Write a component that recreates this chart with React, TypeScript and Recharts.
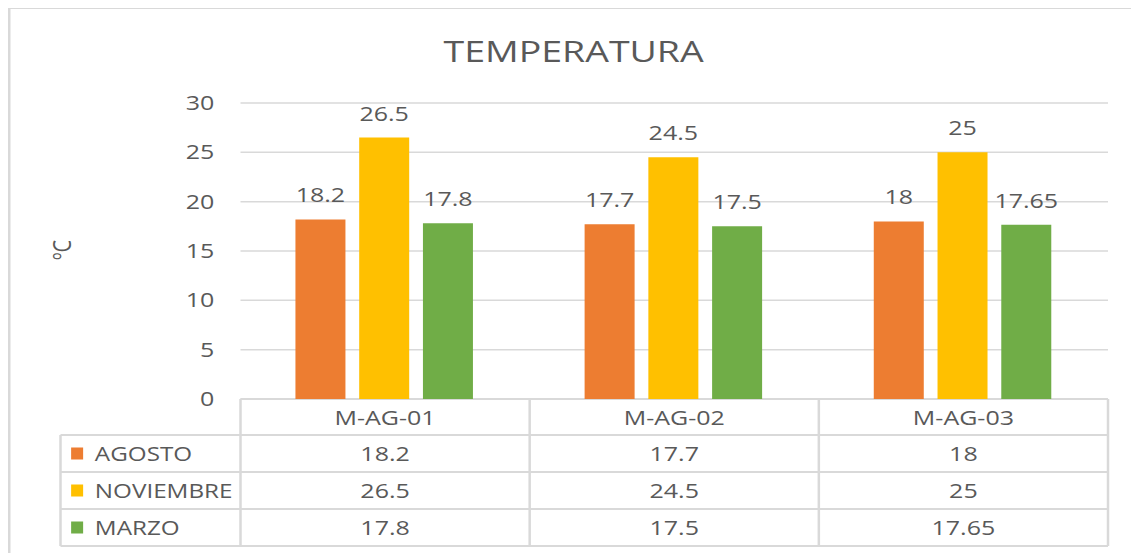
import { BarChart, Bar, XAxis, YAxis, CartesianGrid, LabelList, Customized } from "recharts"

const stations = ["M-AG-01", "M-AG-02", "M-AG-03"]
const seriesNames = ["AGOSTO", "NOVIEMBRE", "MARZO"]
const agosto = [18.2, 17.7, 18]
const noviembre = [26.5, 24.5, 25]
const marzo = [17.8, 17.5, 17.65]
const yTicks = [0, 5, 10, 15, 20, 25, 30]

const seriesKeys = ["agosto", "noviembre", "marzo"]
const seriesValues = [agosto, noviembre, marzo]
const colors = ["#ED7D31", "#FFC000", "#70AD47"]

const data = stations.map((name, i) => ({
  name,
  agosto: agosto[i],
  noviembre: noviembre[i],
  marzo: marzo[i],
}))

// the reference is stretched sideways, so draw narrow and scale x
const STRETCH = 1.25
const W = 905
const H = 545
const PLOT_LEFT = 186
const PLOT_RIGHT = 880
const PLOT_TOP = 95
const PLOT_BOTTOM = 391
const HEADER_H = 36
const ROW_H = 37
const LEGEND_LEFT = 42
const TABLE_BOTTOM = PLOT_BOTTOM + HEADER_H + ROW_H * seriesNames.length

const TEXT = "#595959"
const LINE = "#d9d9d9"
const FONT = "'Open Sans', sans-serif"

function TableTick(props: any) {
  const { x, index, payload } = props
  const band = (PLOT_RIGHT - PLOT_LEFT) / stations.length
  const left = x - band / 2
  const right = x + band / 2
  return (
    <g>
      <line x1={left} x2={left} y1={PLOT_BOTTOM} y2={TABLE_BOTTOM} stroke={LINE} strokeWidth={2} />
      {index === stations.length - 1 && (
        <line x1={right} x2={right} y1={PLOT_BOTTOM} y2={TABLE_BOTTOM} stroke={LINE} strokeWidth={2} />
      )}
      <text x={x} y={PLOT_BOTTOM + HEADER_H / 2} textAnchor="middle" dominantBaseline="central"
        fill={TEXT} fontSize={20} fontFamily={FONT}>
        {payload.value}
      </text>
      {seriesValues.map((vals, r) => (
        <text key={r} x={x} y={PLOT_BOTTOM + HEADER_H + ROW_H * r + ROW_H / 2}
          textAnchor="middle" dominantBaseline="central" fill={TEXT} fontSize={20} fontFamily={FONT}>
          {String(vals[index])}
        </text>
      ))}
    </g>
  )
}

function Frame() {
  const rowLines = seriesNames.map((_, r) => PLOT_BOTTOM + HEADER_H + ROW_H * r)
  return (
    <g>
      <rect x={1} y={0} width={W + 20} height={H + 20} fill="none" stroke={LINE} strokeWidth={2} />
      <text x={W / 2} y={54} textAnchor="middle" fill={TEXT} fontSize={30} fontFamily={FONT}>
        TEMPERATURA
      </text>
      <text x={43} y={242} transform="rotate(-90 43 242)" textAnchor="middle" dominantBaseline="central"
        fill={TEXT} fontSize={20} fontFamily={FONT}>
        ºC
      </text>
      <line x1={PLOT_LEFT} x2={PLOT_RIGHT} y1={PLOT_BOTTOM} y2={PLOT_BOTTOM} stroke={LINE} strokeWidth={2} />
      {rowLines.map((y) => (
        <line key={y} x1={LEGEND_LEFT} x2={PLOT_RIGHT} y1={y} y2={y} stroke={LINE} strokeWidth={2} />
      ))}
      <line x1={LEGEND_LEFT} x2={PLOT_RIGHT} y1={TABLE_BOTTOM} y2={TABLE_BOTTOM} stroke={LINE} strokeWidth={2} />
      <line x1={LEGEND_LEFT} x2={LEGEND_LEFT} y1={rowLines[0]} y2={TABLE_BOTTOM} stroke={LINE} strokeWidth={2} />
      {seriesNames.map((name, r) => {
        const cy = rowLines[0] + ROW_H * r + ROW_H / 2
        return (
          <g key={name}>
            <rect x={50.5} y={cy - 6} width={9.6} height={12} fill={colors[r]} />
            <text x={69.5} y={cy} dominantBaseline="central" fill={TEXT} fontSize={19.4} fontFamily={FONT}>
              {name}
            </text>
          </g>
        )
      })}
    </g>
  )
}

export default function App() {
  return (
    <div style={{ width: W, height: H, transform: `scaleX(${STRETCH})`, transformOrigin: "0 0" }}>
      <BarChart
        width={W}
        height={H}
        data={data}
        margin={{ top: PLOT_TOP, right: W - PLOT_RIGHT, left: 0, bottom: 0 }}
        barCategoryGap="19%"
        barGap={11}
      >
        <CartesianGrid vertical={false} stroke={LINE} strokeWidth={1.5} />
        <XAxis
          dataKey="name"
          height={H - PLOT_BOTTOM}
          axisLine={false}
          tickLine={false}
          tickSize={0}
          tickMargin={0}
          interval={0}
          tick={<TableTick />}
        />
        <YAxis
          width={PLOT_LEFT}
          domain={[0, 30]}
          ticks={yTicks}
          axisLine={false}
          tickLine={false}
          tickMargin={15}
          tick={{ fill: TEXT, fontSize: 20, fontFamily: FONT }}
        />
        {seriesKeys.map((key, i) => (
          <Bar key={key} dataKey={key} fill={colors[i]} isAnimationActive={false}>
            <LabelList dataKey={key} position="top" offset={17} fill={TEXT} fontSize={20} fontFamily={FONT} />
          </Bar>
        ))}
        <Customized component={<Frame />} />
      </BarChart>
    </div>
  )
}
